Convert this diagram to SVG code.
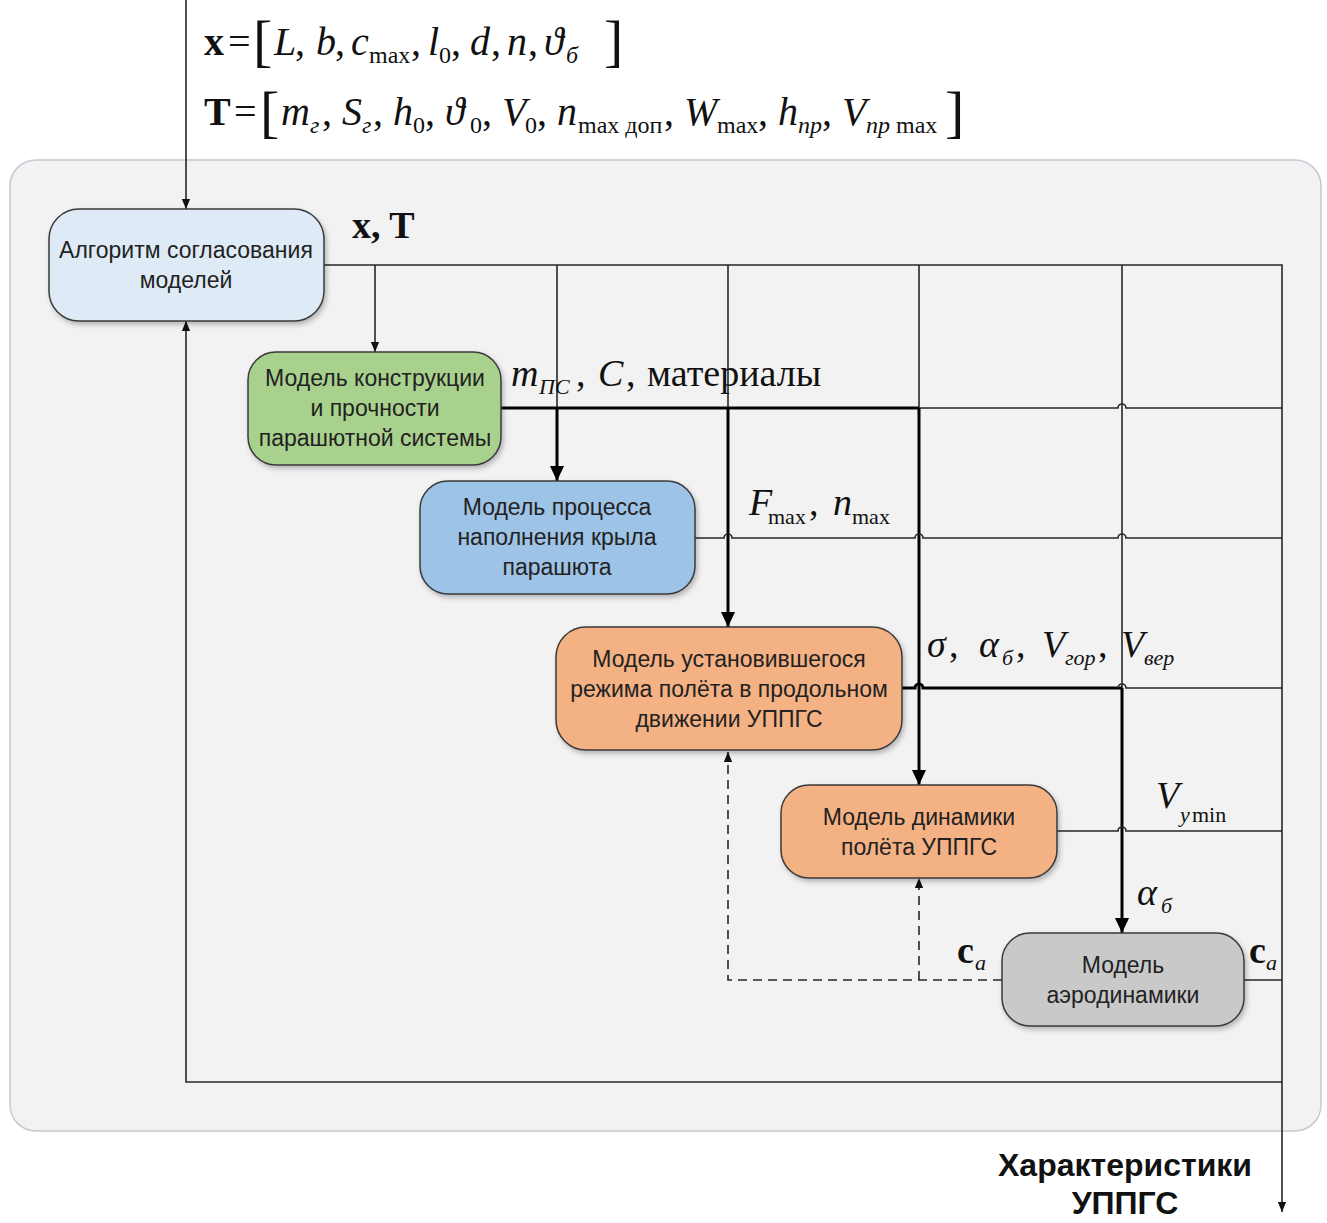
<svg xmlns="http://www.w3.org/2000/svg" width="1327" height="1223" viewBox="0 0 1327 1223">
  <style>
    .node rect { stroke: #3a3a3a; stroke-width: 1.5; }
    .lbl { font-family: "Liberation Sans", Arial, sans-serif; font-size: 23px; fill: #222; text-anchor: middle; }
    .m { font-family: "Liberation Serif", "Times New Roman", serif; font-size: 40px; fill: #111; }
    .k { font-family: "Liberation Serif", "Times New Roman", serif; font-size: 38px; fill: #111; }
    .i { font-style: italic; }
    .b { font-weight: bold; }
    .s { font-size: 24px; }
    .t { font-size: 22px; }
    .br { font-family: "Liberation Serif", "Times New Roman", serif; font-size: 58px; fill: #111; }
    .thin { fill: none; stroke: #262626; stroke-width: 1.6; }
    .thick { fill: none; stroke: #000; stroke-width: 3; }
    .dash { fill: none; stroke: #262626; stroke-width: 1.6; stroke-dasharray: 9 6; }
    .out { font-family: "Liberation Sans", Arial, sans-serif; font-size: 32px; font-weight: bold; fill: #111; text-anchor: middle; }
  </style>
  <defs>
    <marker id="a" markerUnits="userSpaceOnUse" markerWidth="10" markerHeight="12" refX="12" refY="5" orient="auto" viewBox="0 0 12 10">
      <path d="M0,0 L12,5 L0,10 z" fill="#111"/>
    </marker>
    <marker id="A" markerUnits="userSpaceOnUse" markerWidth="15" markerHeight="14" refX="15" refY="7" orient="auto" viewBox="0 0 15 14">
      <path d="M0,0 L15,7 L0,14 z" fill="#000"/>
    </marker>
    <filter id="sh" x="-10%" y="-10%" width="125%" height="130%">
      <feDropShadow dx="2" dy="3" stdDeviation="2.5" flood-color="#000" flood-opacity="0.25"/>
    </filter>
  </defs>

  <!-- input vectors -->
  <g id="formula-x">
    <text class="m b" x="204" y="55">x</text>
    <text class="m" x="228" y="55">=</text>
    <text class="br" x="253" y="60">[</text>
    <text class="m i" x="274" y="55">L</text>
    <text class="m" x="295" y="55">,</text>
    <text class="m i" x="316" y="55">b</text>
    <text class="m" x="335" y="55">,</text>
    <text class="m i" x="351" y="55">c</text>
    <text class="m s" x="369" y="63">max</text>
    <text class="m" x="411" y="55">,</text>
    <text class="m i" x="428" y="55">l</text>
    <text class="m s" x="439" y="63">0</text>
    <text class="m" x="451" y="55">,</text>
    <text class="m i" x="470" y="55">d</text>
    <text class="m" x="491" y="55">,</text>
    <text class="m i" x="507" y="55">n</text>
    <text class="m" x="528" y="55">,</text>
    <text class="m i" x="544" y="55">ϑ</text>
    <text class="m i s" x="566" y="63">б</text>
    <text class="br" x="604" y="60">]</text>
  </g>
  <g id="formula-T">
    <text class="m b" x="204" y="125">T</text>
    <text class="m" x="234" y="125">=</text>
    <text class="br" x="260" y="131">[</text>
    <text class="m i" x="281" y="125">m</text>
    <text class="m i s" x="310" y="133">г</text>
    <text class="m" x="322" y="125">,</text>
    <text class="m i" x="342" y="125">S</text>
    <text class="m i s" x="362" y="133">г</text>
    <text class="m" x="373" y="125">,</text>
    <text class="m i" x="393" y="125">h</text>
    <text class="m s" x="413" y="133">0</text>
    <text class="m" x="425" y="125">,</text>
    <text class="m i" x="445" y="125">ϑ</text>
    <text class="m s" x="470" y="133">0</text>
    <text class="m" x="482" y="125">,</text>
    <text class="m i" x="502" y="125">V</text>
    <text class="m s" x="525" y="133">0</text>
    <text class="m" x="537" y="125">,</text>
    <text class="m i" x="557" y="125">n</text>
    <text class="m s" x="578" y="133">max доп</text>
    <text class="m" x="664" y="125">,</text>
    <text class="m i" x="684" y="125">W</text>
    <text class="m s" x="717" y="133">max</text>
    <text class="m" x="758" y="125">,</text>
    <text class="m i" x="778" y="125">h</text>
    <text class="m i s" x="798" y="133">пр</text>
    <text class="m" x="822" y="125">,</text>
    <text class="m i" x="842" y="125">V</text>
    <text class="m s" x="866" y="133"><tspan font-style="italic">пр</tspan> max</text>
    <text class="br" x="945" y="131">]</text>
  </g>

  <!-- system boundary -->
  <rect id="system" x="10" y="160" width="1311" height="971" rx="26" fill="#f2f2f2" stroke="#c3cad3" stroke-width="1.5"/>

  <g id="connectors">
    <!-- input and bus x, T -->
    <path class="thin" d="M186,0 V209" marker-end="url(#a)"/>
    <path class="thin" d="M324,265 H1282 V1212" marker-end="url(#a)"/>
    <path class="thin" d="M375,265 V352" marker-end="url(#a)"/>
    <path class="thin" d="M557,265 V408"/>
    <path class="thin" d="M728,265 V408"/>
    <path class="thin" d="M919,265 V408"/>
    <path class="thin" d="M1122,265 V688"/>
    <!-- m_PS, C, materials -->
    <path class="thick" d="M501,408 H919"/>
    <path class="thin" d="M919,408 H1118 a4,4 0 0 1 8,0 H1282"/>
    <path class="thick" d="M557,408 V481" marker-end="url(#A)"/>
    <path class="thick" d="M728,408 V627" marker-end="url(#A)"/>
    <path class="thick" d="M919,408 V785" marker-end="url(#A)"/>
    <!-- F_max, n_max -->
    <path class="thin" d="M695,538 H724 a4,4 0 0 1 8,0 H915 a4,4 0 0 1 8,0 H1118 a4,4 0 0 1 8,0 H1282"/>
    <!-- sigma, alpha, V -->
    <path class="thick" d="M902,688 H915 a4,4 0 0 1 8,0 H1122"/>
    <path class="thin" d="M1118,688 a4,4 0 0 1 8,0 H1282"/>
    <path class="thick" d="M1122,688 V933" marker-end="url(#A)"/>
    <!-- V_y min -->
    <path class="thin" d="M1057,831 H1118 a4,4 0 0 1 8,0 H1282"/>
    <!-- c_a -->
    <path class="thin" d="M1244,980 H1282"/>
    <path class="dash" d="M1002,980 H728 V752" marker-end="url(#a)"/>
    <path class="dash" d="M919,980 V878" marker-end="url(#a)"/>
    <!-- feedback -->
    <path class="thin" d="M1282,1082 H186 V321" marker-end="url(#a)"/>
  </g>

  <g id="n-algorithm" class="node">
    <rect x="49" y="209" width="275" height="112" rx="30" fill="#deebf7" filter="url(#sh)"/>
    <text class="lbl" x="186" y="258">Алгоритм согласования</text>
    <text class="lbl" x="186" y="288">моделей</text>
  </g>
  <g id="n-structure" class="node">
    <rect x="248" y="352" width="253" height="113" rx="28" fill="#a9d18e" filter="url(#sh)"/>
    <text class="lbl" x="375" y="386">Модель конструкции</text>
    <text class="lbl" x="375" y="416">и прочности</text>
    <text class="lbl" x="375" y="446">парашютной системы</text>
  </g>
  <g id="n-inflation" class="node">
    <rect x="420" y="481" width="275" height="113" rx="28" fill="#9dc3e6" filter="url(#sh)"/>
    <text class="lbl" x="557" y="515">Модель процесса</text>
    <text class="lbl" x="557" y="545">наполнения крыла</text>
    <text class="lbl" x="557" y="575">парашюта</text>
  </g>
  <g id="n-steady" class="node">
    <rect x="556" y="627" width="346" height="123" rx="30" fill="#f4b183" filter="url(#sh)"/>
    <text class="lbl" x="729" y="667">Модель установившегося</text>
    <text class="lbl" x="729" y="697">режима полёта в продольном</text>
    <text class="lbl" x="729" y="727">движении УППГС</text>
  </g>
  <g id="n-dynamics" class="node">
    <rect x="781" y="785" width="276" height="93" rx="28" fill="#f4b183" filter="url(#sh)"/>
    <text class="lbl" x="919" y="825">Модель динамики</text>
    <text class="lbl" x="919" y="855">полёта УППГС</text>
  </g>
  <g id="n-aero" class="node">
    <rect x="1002" y="933" width="242" height="93" rx="28" fill="#c9c9c9" filter="url(#sh)"/>
    <text class="lbl" x="1123" y="973">Модель</text>
    <text class="lbl" x="1123" y="1003">аэродинамики</text>
  </g>

  <!-- connector labels -->
  <g id="labels">
    <text class="k b" x="352" y="238">x,  T</text>
    <text class="k i" x="511" y="386">m</text>
    <text class="k i t" x="539" y="394">ПС</text>
    <text class="k" x="576" y="386">,</text>
    <text class="k i" x="598" y="386">C</text>
    <text class="k" x="626" y="386">,</text>
    <text class="k" x="647" y="386">материалы</text>
    <text class="k i" x="749" y="515">F</text>
    <text class="k t" x="768" y="524">max</text>
    <text class="k" x="809" y="515">,</text>
    <text class="k i" x="833" y="515">n</text>
    <text class="k t" x="852" y="524">max</text>
    <text class="k i" x="927" y="657">σ</text>
    <text class="k" x="949" y="657">,</text>
    <text class="k i" x="979" y="657">α</text>
    <text class="k i t" x="1002" y="665">б</text>
    <text class="k" x="1016" y="657">,</text>
    <text class="k i" x="1042" y="657">V</text>
    <text class="k i t" x="1065" y="665">гор</text>
    <text class="k" x="1098" y="657">,</text>
    <text class="k i" x="1121" y="657">V</text>
    <text class="k i t" x="1144" y="665">вер</text>
    <text class="k i" x="1156" y="808">V</text>
    <text class="k i t" x="1180" y="822">y</text>
    <text class="k t" x="1192" y="822">min</text>
    <text class="k i" x="1137" y="905">α</text>
    <text class="k i t" x="1161" y="913">б</text>
    <text class="k b" x="957" y="963">c</text>
    <text class="k i t" x="975" y="970">a</text>
    <text class="k b" x="1249" y="963">c</text>
    <text class="k i t" x="1266" y="970">a</text>
    <text class="out" x="1125" y="1176">Характеристики</text>
    <text class="out" x="1125" y="1214">УППГС</text>
  </g>
</svg>
